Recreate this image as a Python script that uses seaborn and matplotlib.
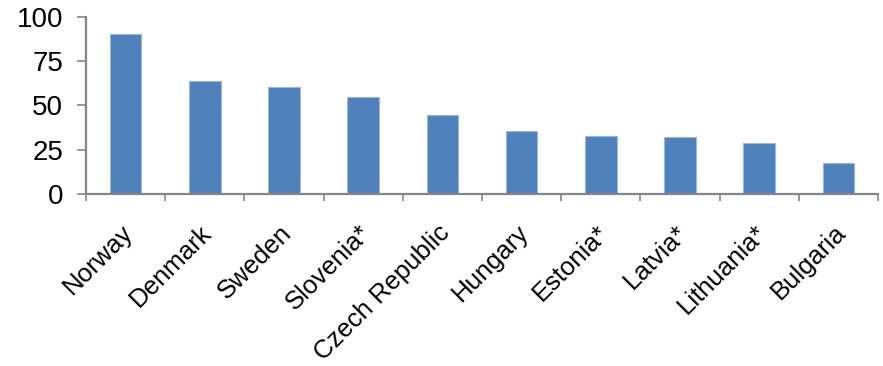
import matplotlib
matplotlib.use("Agg")
import matplotlib.pyplot as plt
import matplotlib.transforms as mtransforms
import seaborn as sns
import pandas as pd

countries = ["Norway", "Denmark", "Sweden", "Slovenia*", "Czech Republic",
             "Hungary", "Estonia*", "Latvia*", "Lithuania*", "Bulgaria"]
values = [90, 63.5, 60.5, 54.5, 44.5, 35.5, 32.5, 32, 28.7, 17.5]
y_ticks = [0, 25, 50, 75, 100]

sns.set_style("white")
plt.rcParams["font.family"] = ["Liberation Sans", "DejaVu Sans"]

df = pd.DataFrame({"country": countries, "value": values})

fig = plt.figure(figsize=(8.83, 3.66), dpi=100)
ax = fig.add_axes([86 / 883, 1 - 194 / 366, (878 - 86) / 883, (194 - 16.5) / 366])

sns.barplot(data=df, x="country", y="value", color="#4F81BD", saturation=1,
            width=0.4, edgecolor="#9bb7dc", linewidth=0.8, ax=ax)

axis_grey = "#868686"
ax.set_xlim(-0.5, len(countries) - 0.5)
ax.set_ylim(0, 100)
ax.set_yticks(y_ticks)
ax.set_yticklabels([str(t) for t in y_ticks], fontsize=20, color="black")
ax.set_xlabel("")
ax.set_ylabel("")

for side in ("top", "right"):
    ax.spines[side].set_visible(False)
for side in ("left", "bottom"):
    ax.spines[side].set_color(axis_grey)
    ax.spines[side].set_linewidth(1.6)

ax.tick_params(axis="y", direction="out", length=6.5, width=1.2, color=axis_grey,
               left=True, pad=10)
ax.tick_params(axis="x", which="major", length=0, pad=19)
ax.set_xticks([i - 0.5 for i in range(len(countries) + 1)], minor=True)
ax.tick_params(axis="x", which="minor", direction="out", length=5, width=1.2,
               color=axis_grey, bottom=True)

offset = mtransforms.ScaledTranslation(-5 / 100, 0, fig.dpi_scale_trans)
for lbl in ax.get_xticklabels():
    lbl.set_rotation(45)
    lbl.set_ha("right")
    lbl.set_va("top")
    lbl.set_rotation_mode("anchor")
    lbl.set_fontsize(18.5)
    lbl.set_color("black")
    lbl.set_transform(lbl.get_transform() + offset)

fig.savefig("out.png", dpi=100)
